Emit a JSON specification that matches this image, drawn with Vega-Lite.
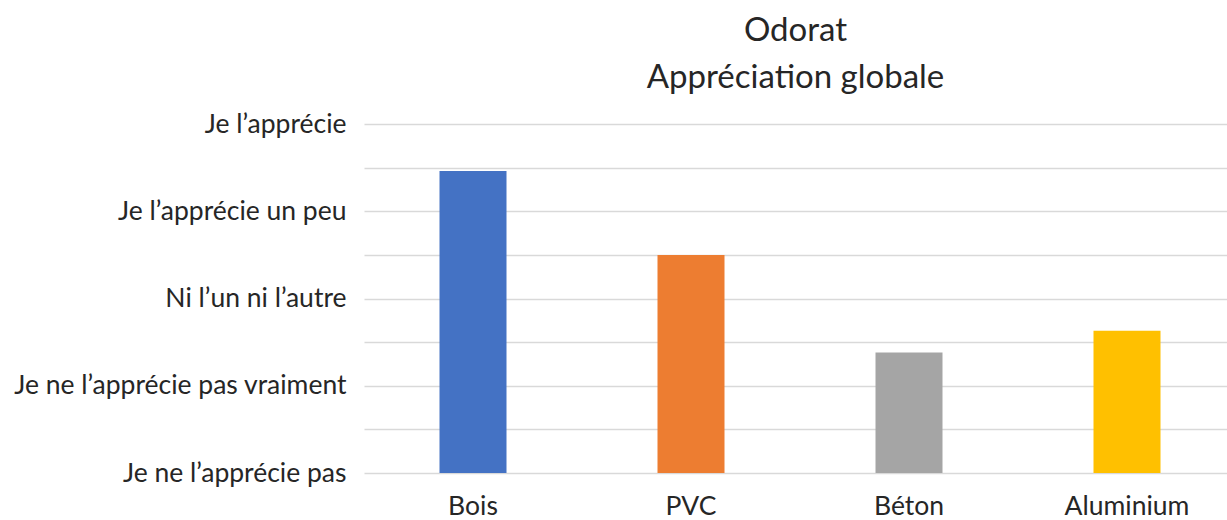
{
  "$schema": "https://vega.github.io/schema/vega-lite/v6.json",
  "autosize": {"type": "none"},
  "padding": {"left": 364, "top": 124, "right": 0, "bottom": 47},
  "width": 863,
  "height": 349,
  "background": "white",
  "config": {"view": {"stroke": null}, "font": "Lato"},
  "title": {
    "text": ["Odorat", "Appréciation globale"],
    "fontSize": 33,
    "fontWeight": "normal",
    "font": "Lato",
    "color": "#262626",
    "lineHeight": 47,
    "anchor": "middle",
    "offset": 16
  },
  "data": {
    "values": [
      {"materiau": "Bois", "score": 4.46},
      {"materiau": "PVC", "score": 3.5},
      {"materiau": "Béton", "score": 2.38},
      {"materiau": "Aluminium", "score": 2.63}
    ]
  },
  "mark": {"type": "bar", "width": 67},
  "encoding": {
    "x": {
      "field": "materiau",
      "type": "nominal",
      "sort": null,
      "scale": {"range": [0, 872], "paddingInner": 0, "paddingOuter": 0},
      "axis": {
        "title": null,
        "labelAngle": 0,
        "labelFontSize": 26.5,
        "labelColor": "#262626",
        "labelFont": "Lato",
        "ticks": false,
        "domain": false,
        "labelPadding": 20,
        "grid": false
      }
    },
    "y": {
      "field": "score",
      "type": "quantitative",
      "scale": {"domain": [1, 5], "nice": false, "zero": false},
      "axis": {
        "title": null,
        "values": [1, 1.5, 2, 2.5, 3, 3.5, 4, 4.5, 5],
        "labelExpr": "datum.value == 1 ? 'Je ne l’apprécie pas' : datum.value == 2 ? 'Je ne l’apprécie pas vraiment' : datum.value == 3 ? 'Ni l’un ni l’autre' : datum.value == 4 ? 'Je l’apprécie un peu' : datum.value == 5 ? 'Je l’apprécie' : ''",
        "labelFontSize": 26.5,
        "labelColor": "#262626",
        "labelFont": "Lato",
        "labelPadding": 18,
        "labelLimit": 400,
        "ticks": false,
        "domain": false,
        "grid": true,
        "gridColor": "#d9d9d9",
        "gridWidth": 1.5
      }
    },
    "y2": {"datum": 1},
    "color": {
      "field": "materiau",
      "type": "nominal",
      "sort": null,
      "scale": {"domain": ["Bois", "PVC", "Béton", "Aluminium"], "range": ["#4472C4", "#ED7D31", "#A5A5A5", "#FFC000"]},
      "legend": null
    }
  }
}
